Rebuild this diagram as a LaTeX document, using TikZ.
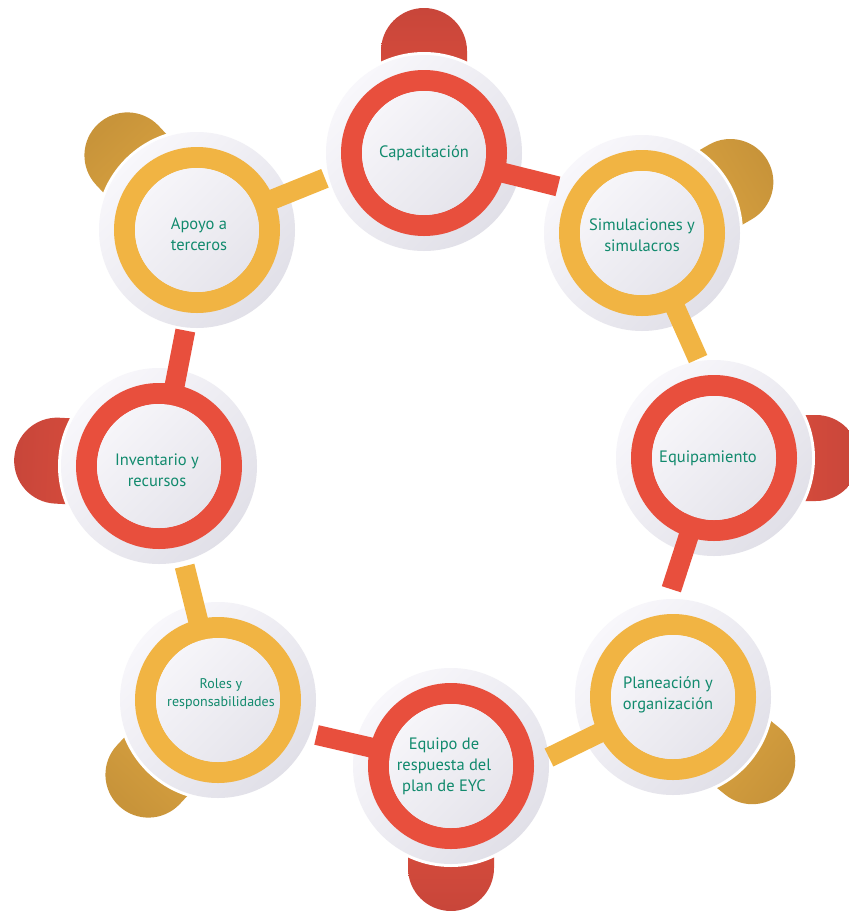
\documentclass[tikz,border=0pt]{standalone}
\usepackage{fontspec}
\setmainfont{PT Sans}
\usetikzlibrary{calc}
\definecolor{ringred}{HTML}{E84F3D}
\definecolor{ringgold}{HTML}{F1B443}
\definecolor{tabredlight}{HTML}{E5513E}
\definecolor{tabreddark}{HTML}{C8463A}
\definecolor{tabgoldlight}{HTML}{E6AD45}
\definecolor{tabgolddark}{HTML}{C8943A}
\definecolor{greyL}{HTML}{F8F7FB}
\definecolor{greyD}{HTML}{E1E0E8}
\definecolor{innerL}{HTML}{F6F5F9}
\definecolor{innerD}{HTML}{E6E5EC}
\definecolor{txtteal}{HTML}{118A6D}
\tikzset{
  lbl/.style={align=center, text=txtteal, font=\fontsize{16.5}{21}\selectfont, inner sep=0pt},
  lblsmall/.style={align=center, text=txtteal, font=\fontsize{14}{18.5}\selectfont, inner sep=0pt},
}
\begin{document}
\begin{tikzpicture}[x=1pt,y=-1pt]
\useasboundingbox (0,0) rectangle (849,911);
\clip (0,0) rectangle (849,911);
\coordinate (c1) at (424,153);
\coordinate (c2) at (642,233);
\coordinate (c3) at (714,458);
\coordinate (c4) at (673,697);
\coordinate (c5) at (451,766);
\coordinate (c6) at (218,700);
\coordinate (c7) at (159,466);
\coordinate (c8) at (197,230);
% tabs
\foreach \n/\ta/\col in {c1/270/red, c2/330/gold, c3/0/red, c4/39/gold, c5/90/red, c6/133/gold, c7/183/red, c8/227/gold}{
  \shade[top color=tab\col dark, bottom color=tab\col light, shading angle={-\ta-90}]
    ($(\n)+(\ta+90:43)$) -- ($(\n)+(\ta:102)+(\ta+90:43)$)
    arc[start angle=\ta+90, delta angle=-180, radius=43]
    -- ($(\n)+(\ta-90:43)$) -- cycle;
}
% discs
\foreach \n in {c1,c2,c3,c4,c5,c6,c7,c8}{
  \fill[white] (\n) circle[radius=101];
  \shade[top color=greyL, bottom color=greyD, shading angle=45] (\n) circle[radius=98];
}
% handles
\foreach \n/\ha/\col in {c1/14/ringred, c2/66/ringgold, c3/108/ringred, c4/154/ringgold, c5/193/ringred, c6/256/ringgold, c7/281/ringred, c8/338/ringgold}{
  \draw[line width=20, \col] (\n) -- ++(\ha:138);
}
% rings
\foreach \n/\col in {c1/ringred, c2/ringgold, c3/ringred, c4/ringgold, c5/ringred, c6/ringgold, c7/ringred, c8/ringgold}{
  \draw[line width=21, \col] (\n) circle[radius=72.5];
  \shade[top color=innerL, bottom color=innerD, shading angle=45] (\n) circle[radius=62];
}
\node[lbl] (t1) at (424,153) {Capacitación};
\node[lbl] (t2) at (642,235) {Simulaciones y\\simulacros};
\node[lbl] (t3) at (708,458) {Equipamiento};
\node[lbl] (t4) at (668,695) {Planeación y\\organización};
\node[lbl] (t5) at (444,766) {Equipo de\\respuesta del\\plan de EYC};
\node[lblsmall] (t6) at (221,694) {Roles y\\responsabilidades};
\node[lbl] (t7) at (157,470) {Inventario y\\recursos};
\node[lbl] (t8) at (199,234) {Apoyo a\\terceros};
\end{tikzpicture}
\end{document}
